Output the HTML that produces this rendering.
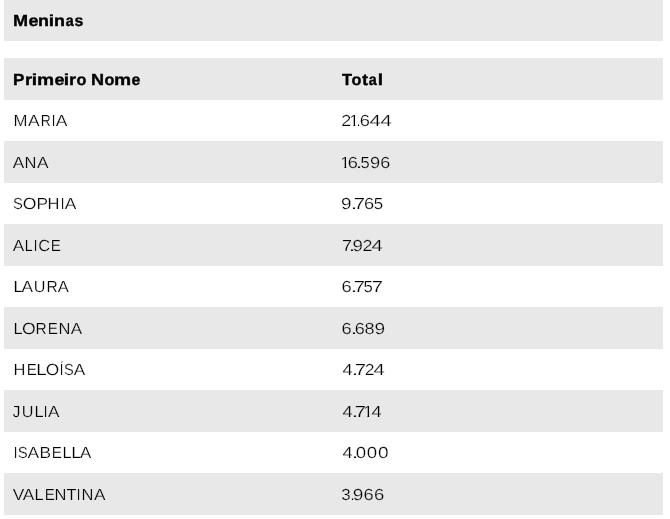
<!DOCTYPE html>
<html lang="pt"><head><meta charset="utf-8"><title>Meninas</title>
<style>
html,body{margin:0;padding:0;background:#fff}
body{width:670px;height:519px;position:relative;overflow:hidden;font:16px/20px "Liberation Sans",sans-serif;color:#000}
.r{position:absolute;left:4px;width:659px;background:#e8e8e8}
i{position:absolute;left:0;font-style:normal;white-space:pre;transform-origin:0 0}
.w{-webkit-text-stroke:0.22px #fff}
.g{-webkit-text-stroke:0.22px #e8e8e8}
b{position:absolute;height:1px;background:#111}
.o{clip-path:polygon(1.3px 0,5.6px 0,5.6px 20px,3.9px 20px,3.9px 13px,1.3px 13px)}
.b{font-weight:bold;-webkit-text-stroke:0.35px #000}
#t{will-change:transform;-webkit-font-smoothing:antialiased}
</style></head><body>
<div class="r" style="top:0px;height:41px"></div>
<div class="r" style="top:58px;height:42px"></div>
<div class="r" style="top:141px;height:42px"></div>
<div class="r" style="top:224px;height:42px"></div>
<div class="r" style="top:307px;height:42px"></div>
<div class="r" style="top:390px;height:42px"></div>
<div class="r" style="top:473px;height:42px"></div>
<div id="t">
<div><i class="b" style="top:11px;transform:matrix(1.131,.0005,0,1,12.96,0)">M</i><i class="b" style="top:11px;transform:matrix(1.120,.0005,0,1,28.48,0)">e</i><i class="b" style="top:11px;transform:matrix(1.120,.0005,0,1,37.99,0)">n</i><i class="b" style="top:11px;transform:matrix(1.207,.0005,0,1,48.83,0)">i</i><i class="b" style="top:11px;transform:matrix(1.120,.0005,0,1,53.99,0)">n</i><i class="b" style="top:11px;transform:matrix(0.897,.0005,0,1,65.75,0)">a</i><i class="b" style="top:11px;transform:matrix(0.996,.0005,0,1,74.61,0)">s</i></div>
<div><i class="b" style="top:70px;transform:matrix(1.066,.0005,0,1,13.03,0)">P</i><i class="b" style="top:70px;transform:matrix(1.146,.0005,0,1,24.97,0)">r</i><i class="b" style="top:70px;transform:matrix(1.207,.0005,0,1,31.83,0)">i</i><i class="b" style="top:70px;transform:matrix(1.203,.0005,0,1,36.91,0)">m</i><i class="b" style="top:70px;transform:matrix(1.120,.0005,0,1,54.48,0)">e</i><i class="b" style="top:70px;transform:matrix(1.207,.0005,0,1,63.83,0)">i</i><i class="b" style="top:70px;transform:matrix(1.146,.0005,0,1,68.97,0)">r</i><i class="b" style="top:70px;transform:matrix(1.015,.0005,0,1,76.54,0)">o</i><i class="b" style="top:70px;transform:matrix(1,.0005,0,1,87,0)"> </i><i class="b" style="top:70px;transform:matrix(1.132,.0005,0,1,90.96,0)">N</i><i class="b" style="top:70px;transform:matrix(1.015,.0005,0,1,104.54,0)">o</i><i class="b" style="top:70px;transform:matrix(1.203,.0005,0,1,113.91,0)">m</i><i class="b" style="top:70px;transform:matrix(0.990,.0005,0,1,131.56,0)">e</i></div>
<div><i class="b" style="top:70px;transform:matrix(1.024,.0005,0,1,341.99,0)">T</i><i class="b" style="top:70px;transform:matrix(1.015,.0005,0,1,351.54,0)">o</i><i class="b" style="top:70px;transform:matrix(1.144,.0005,0,1,361.95,0)">t</i><i class="b" style="top:70px;transform:matrix(0.897,.0005,0,1,368.75,0)">a</i><i class="b" style="top:70px;transform:matrix(1.207,.0005,0,1,377.83,0)">l</i></div>
<div><i class="w" style="top:111px;transform:matrix(1.048,.0005,0,1,13.51,0)">M</i><i class="w" style="top:111px;transform:matrix(1.091,.0005,0,1,27.91,0)">A</i><i class="w" style="top:111px;transform:matrix(0.865,.0005,0,1,40.75,0)">R</i><i class="w" style="top:111px;transform:matrix(0.818,.0005,0,1,51.68,0)">I</i><i class="w" style="top:111px;transform:matrix(1.091,.0005,0,1,55.66,0)">A</i></div>
<div><i class="g" style="top:153px;transform:matrix(1.076,.0005,0,1,12.86,0)">A</i><i class="g" style="top:153px;transform:matrix(1.032,.0005,0,1,24.54,0)">N</i><i class="g" style="top:153px;transform:matrix(1.086,.0005,0,1,37.01,0)">A</i></div>
<div><i class="w" style="top:194px;transform:matrix(0.925,.0005,0,1,12.97,0)">S</i><i class="w" style="top:194px;transform:matrix(1.101,.0005,0,1,22.81,0)">O</i><i class="w" style="top:194px;transform:matrix(1.083,.0005,0,1,36.47,0)">P</i><i class="w" style="top:194px;transform:matrix(1.032,.0005,0,1,47.54,0)">H</i><i class="w" style="top:194px;transform:matrix(0.818,.0005,0,1,60.68,0)">I</i><i class="w" style="top:194px;transform:matrix(1.086,.0005,0,1,64.66,0)">A</i></div>
<div><i class="g" style="top:236px;transform:matrix(1.076,.0005,0,1,12.86,0)">A</i><i class="g" style="top:236px;transform:matrix(0.882,.0005,0,1,24.73,0)">L</i><i class="g" style="top:236px;transform:matrix(0.818,.0005,0,1,33.68,0)">I</i><i class="g" style="top:236px;transform:matrix(1.028,.0005,0,1,38.25,0)">C</i><i class="g" style="top:236px;transform:matrix(0.948,.0005,0,1,50.65,0)">E</i></div>
<div><i class="w" style="top:277px;transform:matrix(1.165,.0005,0,1,13.36,0)">L</i><i class="w" style="top:277px;transform:matrix(1.081,.0005,0,1,21.61,0)">A</i><i class="w" style="top:277px;transform:matrix(1.015,.0005,0,1,33.64,0)">U</i><i class="w" style="top:277px;transform:matrix(0.971,.0005,0,1,46.62,0)">R</i><i class="w" style="top:277px;transform:matrix(1.039,.0005,0,1,57.86,0)">A</i></div>
<div><i class="g" style="top:319px;transform:matrix(1.023,.0005,0,1,13.55,0)">L</i><i class="g" style="top:319px;transform:matrix(1.101,.0005,0,1,21.96,0)">O</i><i class="g" style="top:319px;transform:matrix(0.971,.0005,0,1,35.62,0)">R</i><i class="g" style="top:319px;transform:matrix(0.948,.0005,0,1,47.65,0)">E</i><i class="g" style="top:319px;transform:matrix(1.032,.0005,0,1,58.54,0)">N</i><i class="g" style="top:319px;transform:matrix(1.067,.0005,0,1,70.71,0)">A</i></div>
<div><i class="w" style="top:360px;transform:matrix(1.032,.0005,0,1,13.54,0)">H</i><i class="w" style="top:360px;transform:matrix(0.948,.0005,0,1,26.65,0)">E</i><i class="w" style="top:360px;transform:matrix(1.165,.0005,0,1,36.36,0)">L</i><i class="w" style="top:360px;transform:matrix(1.082,.0005,0,1,45.82,0)">O</i><i class="w" style="top:360px;transform:matrix(0.818,.0005,0,1,59.68,0)">Í</i><i class="w" style="top:360px;transform:matrix(0.914,.0005,0,1,64.08,0)">S</i><i class="w" style="top:360px;transform:matrix(1.076,.0005,0,1,73.76,0)">A</i></div>
<div><i class="g" style="top:402px;transform:matrix(0.948,.0005,0,1,12.65,0)">J</i><i class="g" style="top:402px;transform:matrix(1.015,.0005,0,1,21.64,0)">U</i><i class="g" style="top:402px;transform:matrix(1.023,.0005,0,1,34.55,0)">L</i><i class="g" style="top:402px;transform:matrix(0.818,.0005,0,1,43.68,0)">I</i><i class="g" style="top:402px;transform:matrix(1.076,.0005,0,1,47.91,0)">A</i><b style="left:14px;top:406px;width:4px"></b></div>
<div><i class="w" style="top:443px;transform:matrix(0.818,.0005,0,1,13.68,0)">I</i><i class="w" style="top:443px;transform:matrix(0.936,.0005,0,1,17.71,0)">S</i><i class="w" style="top:443px;transform:matrix(1.091,.0005,0,1,27.56,0)">A</i><i class="w" style="top:443px;transform:matrix(1.083,.0005,0,1,39.47,0)">B</i><i class="w" style="top:443px;transform:matrix(0.948,.0005,0,1,51.65,0)">E</i><i class="w" style="top:443px;transform:matrix(1.023,.0005,0,1,62.55,0)">L</i><i class="w" style="top:443px;transform:matrix(1.165,.0005,0,1,71.36,0)">L</i><i class="w" style="top:443px;transform:matrix(1.058,.0005,0,1,79.96,0)">A</i></div>
<div><i class="g" style="top:485px;transform:matrix(1.084,.0005,0,1,12.86,0)">V</i><i class="g" style="top:485px;transform:matrix(1.081,.0005,0,1,22.76,0)">A</i><i class="g" style="top:485px;transform:matrix(1.023,.0005,0,1,34.55,0)">L</i><i class="g" style="top:485px;transform:matrix(0.948,.0005,0,1,44.65,0)">E</i><i class="g" style="top:485px;transform:matrix(1.032,.0005,0,1,54.54,0)">N</i><i class="g" style="top:485px;transform:matrix(1.019,.0005,0,1,66.52,0)">T</i><i class="g" style="top:485px;transform:matrix(0.818,.0005,0,1,76.68,0)">I</i><i class="g" style="top:485px;transform:matrix(1.032,.0005,0,1,81.54,0)">N</i><i class="g" style="top:485px;transform:matrix(1.081,.0005,0,1,94.01,0)">A</i></div>
<div><i class="w" style="top:111px;transform:matrix(1.128,.0005,0,1,341.18,0)">2</i><i class="w o" style="top:111px;transform:matrix(1.082,.0005,0,1,349.22,0)">1</i><i class="w" style="top:111px;transform:matrix(0.801,.0005,0,1,356.72,0)">.</i><i class="w" style="top:111px;transform:matrix(1.140,.0005,0,1,359.76,0)">6</i><i class="w" style="top:111px;transform:matrix(1.268,.0005,0,1,369.42,0)">4</i><i class="w" style="top:111px;transform:matrix(1.268,.0005,0,1,380.42,0)">4</i></div>
<div><i class="g o" style="top:153px;transform:matrix(1.082,.0005,0,1,340.22,0)">1</i><i class="g" style="top:153px;transform:matrix(1.140,.0005,0,1,347.76,0)">6</i><i class="g" style="top:153px;transform:matrix(1.457,.0005,0,1,355.76,0)">.</i><i class="g" style="top:153px;transform:matrix(1.031,.0005,0,1,360.43,0)">5</i><i class="g" style="top:153px;transform:matrix(1.139,.0005,0,1,370.04,0)">9</i><i class="g" style="top:153px;transform:matrix(1.127,.0005,0,1,380.17,0)">6</i></div>
<div><i class="w" style="top:194px;transform:matrix(1.180,.0005,0,1,341.01,0)">9</i><i class="w" style="top:194px;transform:matrix(1.457,.0005,0,1,350.76,0)">.</i><i class="w" style="top:194px;transform:matrix(1.268,.0005,0,1,353.85,0)">7</i><i class="w" style="top:194px;transform:matrix(1.140,.0005,0,1,363.96,0)">6</i><i class="w" style="top:194px;transform:matrix(1.057,.0005,0,1,373.71,0)">5</i></div>
<div><i class="g" style="top:236px;transform:matrix(1.130,.0005,0,1,341.96,0)">7</i><i class="g" style="top:236px;transform:matrix(1.457,.0005,0,1,348.76,0)">.</i><i class="g" style="top:236px;transform:matrix(1.166,.0005,0,1,352.62,0)">9</i><i class="g" style="top:236px;transform:matrix(1.128,.0005,0,1,362.48,0)">2</i><i class="g" style="top:236px;transform:matrix(1.268,.0005,0,1,371.42,0)">4</i></div>
<div><i class="w" style="top:277px;transform:matrix(1.140,.0005,0,1,341.46,0)">6</i><i class="w" style="top:277px;transform:matrix(1.457,.0005,0,1,350.76,0)">.</i><i class="w" style="top:277px;transform:matrix(1.268,.0005,0,1,353.85,0)">7</i><i class="w" style="top:277px;transform:matrix(1.044,.0005,0,1,363.52,0)">5</i><i class="w" style="top:277px;transform:matrix(1.268,.0005,0,1,371.85,0)">7</i></div>
<div><i class="g" style="top:319px;transform:matrix(1.140,.0005,0,1,341.46,0)">6</i><i class="g" style="top:319px;transform:matrix(1.457,.0005,0,1,350.76,0)">.</i><i class="g" style="top:319px;transform:matrix(1.127,.0005,0,1,354.77,0)">6</i><i class="g" style="top:319px;transform:matrix(1.135,.0005,0,1,364.60,0)">8</i><i class="g" style="top:319px;transform:matrix(1.193,.0005,0,1,374.49,0)">9</i></div>
<div><i class="w" style="top:360px;transform:matrix(1.144,.0005,0,1,342.47,0)">4</i><i class="w" style="top:360px;transform:matrix(1.457,.0005,0,1,351.76,0)">.</i><i class="w" style="top:360px;transform:matrix(1.268,.0005,0,1,354.85,0)">7</i><i class="w" style="top:360px;transform:matrix(1.100,.0005,0,1,364.80,0)">2</i><i class="w" style="top:360px;transform:matrix(1.268,.0005,0,1,373.42,0)">4</i></div>
<div><i class="g" style="top:402px;transform:matrix(1.144,.0005,0,1,342.47,0)">4</i><i class="g" style="top:402px;transform:matrix(1.457,.0005,0,1,351.76,0)">.</i><i class="g" style="top:402px;transform:matrix(1.268,.0005,0,1,354.85,0)">7</i><i class="g o" style="top:402px;transform:matrix(1.082,.0005,0,1,363.22,0)">1</i><i class="g" style="top:402px;transform:matrix(1.144,.0005,0,1,371.47,0)">4</i></div>
<div><i class="w" style="top:443px;transform:matrix(1.144,.0005,0,1,342.47,0)">4</i><i class="w" style="top:443px;transform:matrix(1.457,.0005,0,1,351.76,0)">.</i><i class="w" style="top:443px;transform:matrix(1.166,.0005,0,1,355.76,0)">0</i><i class="w" style="top:443px;transform:matrix(1.166,.0005,0,1,366.86,0)">0</i><i class="w" style="top:443px;transform:matrix(1.192,.0005,0,1,378.04,0)">0</i></div>
<div><i class="g" style="top:485px;transform:matrix(1.057,.0005,0,1,341.25,0)">3</i><i class="g" style="top:485px;transform:matrix(0.801,.0005,0,1,350.72,0)">.</i><i class="g" style="top:485px;transform:matrix(1.193,.0005,0,1,352.79,0)">9</i><i class="g" style="top:485px;transform:matrix(1.140,.0005,0,1,363.46,0)">6</i><i class="g" style="top:485px;transform:matrix(1.154,.0005,0,1,373.95,0)">6</i></div>
</div>
</body></html>
